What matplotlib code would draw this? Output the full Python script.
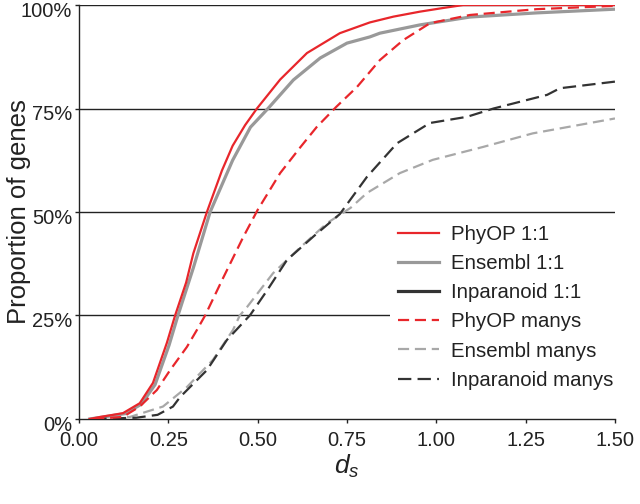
import matplotlib
matplotlib.use("Agg")
import matplotlib.pyplot as plt
from matplotlib.transforms import ScaledTranslation

plt.rcParams["font.family"] = ["Liberation Sans", "DejaVu Sans"]
plt.rcParams["mathtext.fontset"] = "custom"
plt.rcParams["mathtext.it"] = "Liberation Sans:italic"
plt.rcParams["mathtext.rm"] = "Liberation Sans"

# values (d_s, % of genes)
phyop_11_x = [0.03, 0.06, 0.123, 0.17, 0.207, 0.246, 0.269, 0.3, 0.32, 0.358, 0.4, 0.43, 0.465,
              0.498, 0.563, 0.638, 0.73, 0.814, 0.88, 0.954, 1.02, 1.075, 1.5]
phyop_11_y = [0, 0.5, 1.4, 3.8, 8.7, 18.4, 25, 33, 40, 50, 60, 66, 71,
              75, 82, 88.4, 93.2, 95.8, 97.2, 98.4, 99.3, 100, 100]

ens_11_x = [0.03, 0.07, 0.13, 0.175, 0.213, 0.252, 0.277, 0.32, 0.367, 0.43, 0.48, 0.529, 0.6,
            0.675, 0.75, 0.814, 0.842, 0.954, 1.094, 1.28, 1.5]
ens_11_y = [0, 0.5, 1.3, 3.6, 8.3, 17.8, 25, 36.5, 50, 62.5, 70.5, 75, 81.9,
            87.2, 90.8, 92.3, 93.2, 95.2, 97.1, 98.1, 99]

# not visible in the reference plot area, only in the legend
inp_11_x = []
inp_11_y = []

phyop_m_x = [0.04, 0.123, 0.17, 0.218, 0.255, 0.302, 0.33, 0.353, 0.403, 0.46, 0.5, 0.563, 0.62,
             0.665, 0.72, 0.778, 0.842, 0.907, 0.982, 1.094, 1.28, 1.5]
phyop_m_y = [0, 0.5, 3, 7, 11.8, 17.4, 21.5, 25, 34, 44, 50.5, 59.4, 65.7,
             70.5, 75.4, 80.2, 86.7, 91.5, 95.6, 97.6, 99, 99.8]

ens_m_x = [0.04, 0.143, 0.235, 0.302, 0.375, 0.431, 0.45, 0.47, 0.543, 0.62, 0.694, 0.76,
           0.806, 0.898, 0.99, 1.13, 1.27, 1.5]
ens_m_y = [0, 0.5, 3, 7.7, 14.3, 21.5, 25, 27, 35.2, 41.5, 47.3, 51,
           54.6, 59.4, 62.6, 65.7, 69, 72.6]

inp_m_x = [0.04, 0.16, 0.22, 0.263, 0.283, 0.358, 0.414, 0.479, 0.526, 0.582, 0.655, 0.73,
           0.806, 0.89, 0.982, 1.086, 1.16, 1.31, 1.346, 1.5]
inp_m_y = [0, 0.3, 1, 3, 5.3, 11.8, 19.1, 25.1, 31, 38.4, 44, 49.5,
           58.5, 66.6, 71.5, 73, 75, 78.3, 79.9, 81.5]

x_ticks = [0.0, 0.25, 0.5, 0.75, 1.0, 1.25, 1.5]
y_ticks = [0, 25, 50, 75, 100]

red = "#e8262b"
grey = "#999999"
light = "#a8a8a8"
dark = "#333333"
text_c = "#222222"

fig = plt.figure(figsize=(6.4, 5.04), dpi=100)
ax = fig.add_axes([0.1234, 0.1687, 0.8375, 0.8213])

ax.plot(phyop_11_x, phyop_11_y, color=red, lw=1.6, label="PhyOP 1:1", zorder=4)
ax.plot(ens_11_x, ens_11_y, color=grey, lw=2.3, label="Ensembl 1:1", zorder=3)
ax.plot(inp_11_x, inp_11_y, color=dark, lw=2.3, label="Inparanoid 1:1", zorder=3)
ax.plot(phyop_m_x, phyop_m_y, color=red, lw=1.6, dashes=(5, 2.6), label="PhyOP manys", zorder=4)
ax.plot(ens_m_x, ens_m_y, color=light, lw=1.6, dashes=(5, 2.6), label="Ensembl manys", zorder=3)
ax.plot(inp_m_x, inp_m_y, color=dark, lw=1.6, dashes=(6, 2.8), label="Inparanoid manys", zorder=3)

for v in y_ticks[1:]:
    ax.axhline(v, color=text_c, lw=1.0, zorder=1)

ax.set_xlim(0, 1.5)
ax.set_ylim(0, 100)
ax.set_xticks(x_ticks)
ax.set_xticklabels([f"{t:.2f}" for t in x_ticks])
ax.set_yticks(y_ticks)
ax.set_yticklabels([f"{t}%" for t in y_ticks])
ax.tick_params(direction="out", length=3, width=1, labelsize=14.5, colors=text_c)
ax.tick_params(axis="x", pad=6)
ax.tick_params(axis="y", pad=2)

# y tick labels sit a little below their ticks in the original
shift = ScaledTranslation(0, -3 / 72, fig.dpi_scale_trans)
for lab in ax.get_yticklabels():
    lab.set_transform(lab.get_transform() + shift)

for s in ["top", "right"]:
    ax.spines[s].set_visible(False)
for s in ["left", "bottom"]:
    ax.spines[s].set_color(text_c)
    ax.spines[s].set_linewidth(1.0)

ax.set_ylabel("Proportion of genes", fontsize=18.5, color=text_c)
ax.yaxis.set_label_coords(-0.09, 0.5)
ax.set_xlabel(r"$d_s$", fontsize=19, color=text_c, labelpad=2)

leg = ax.legend(loc="upper left", bbox_to_anchor=(0.58, 0.489), fontsize=14.7,
                frameon=True, facecolor="white", edgecolor="none", framealpha=1,
                handlelength=2.0, handletextpad=0.6, labelspacing=0.5,
                borderaxespad=0, borderpad=0.4)
leg.set_zorder(5)
for t in leg.get_texts():
    t.set_color(text_c)

fig.savefig("out.png", dpi=100)
